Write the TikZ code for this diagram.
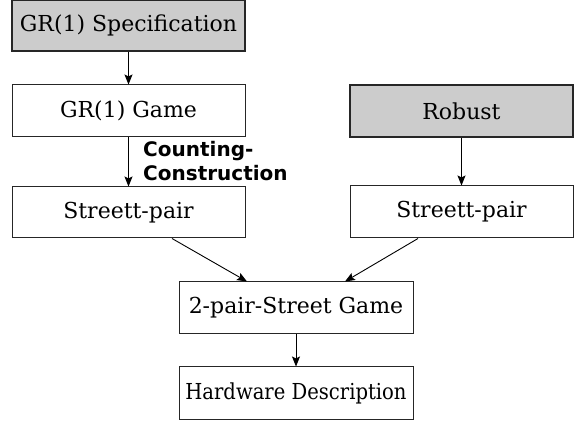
\documentclass[tikz,border=0pt]{standalone}
\usepackage{fontspec}
\setmainfont{DejaVu Serif}
\newfontfamily\labelfont{DejaVu Sans}
\usetikzlibrary{arrows.meta}
\definecolor{boxgray}{gray}{0.8}
\definecolor{edgegray}{gray}{0.15}
\tikzset{
  plainbox/.style={draw=edgegray, line width=1pt, fill=white, rectangle,
    inner sep=0pt, font=\fontsize{22}{24}\selectfont},
  graybox/.style={plainbox, fill=boxgray, line width=1.6pt},
  flow/.style={draw=black, line width=0.9pt,
    -{Stealth[length=10pt,width=8pt,inset=2pt]}},
  edgelabel/.style={font=\labelfont\bfseries\fontsize{20}{24}\selectfont,
    align=left, inner sep=0pt, anchor=north west}
}
\begin{document}
\begin{tikzpicture}[x=1pt,y=1pt]
\useasboundingbox (0,0) rectangle (574,423);
% left column
\node[graybox, minimum width=233, minimum height=51] (spec) at (128.5,397.5) {GR(1) Specification};
\node[plainbox, minimum width=233, minimum height=52] (game) at (128.5,312) {GR(1) Game};
\node[plainbox, minimum width=233, minimum height=51] (spl) at (128.5,210.5) {Streett-pair};
% right column
\node[graybox, minimum width=223, minimum height=52] (rob) at (461.5,312) {Robust};
\node[plainbox, minimum width=223, minimum height=52] (spr) at (461.5,211) {Streett-pair};
% merged part
\node[plainbox, minimum width=234, minimum height=52] (pgame) at (296,115) {2-pair-Street Game};
\node[plainbox, minimum width=234, minimum height=53] (hw) at (296,29.5) {\scalebox{0.89}[1]{Hardware Description}};
% connectors
\draw[flow] (spec) -- (game);
\draw[flow] (game) -- (spl);
\draw[flow] (rob) -- (spr);
\draw[flow] ([xshift=43.5]spl.south) -- ([xshift=-49]pgame.north);
\draw[flow] ([xshift=-43.5]spr.south) -- ([xshift=49]pgame.north);
\draw[flow] (pgame) -- (hw);
\node[edgelabel] (cc) at (143,282) {Counting-\\Construction};
\end{tikzpicture}
\end{document}
